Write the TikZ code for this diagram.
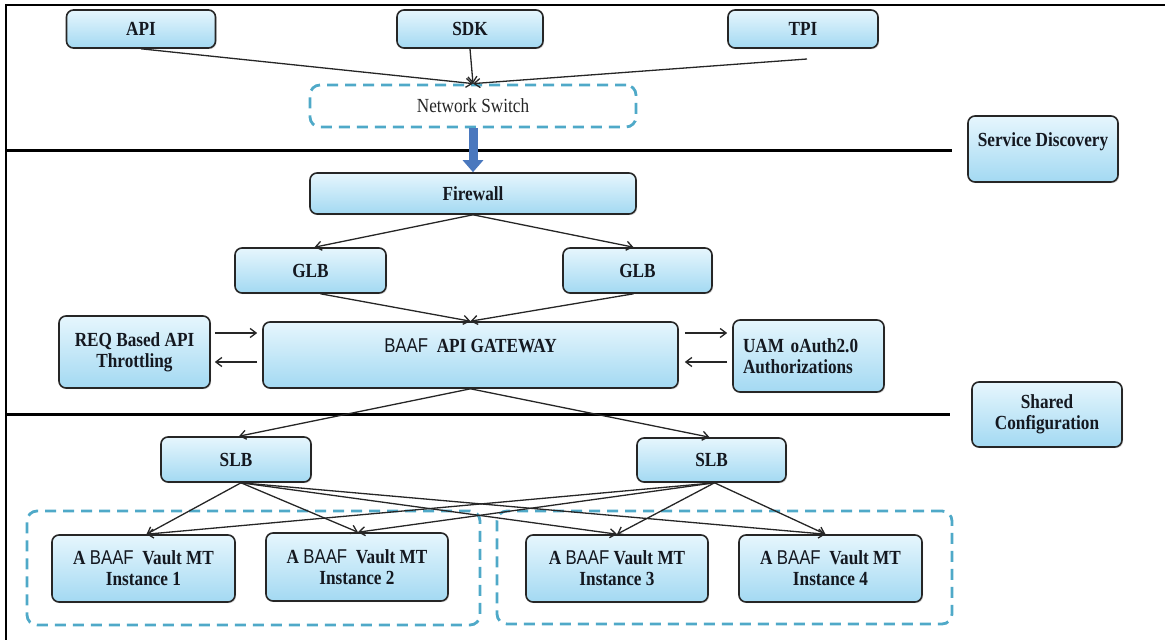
\documentclass[tikz,border=0pt]{standalone}
\usepackage{fontspec}
\setmainfont{Liberation Serif}[FakeStretch=0.86]
\newfontfamily\baaffont{Liberation Sans}[FakeStretch=0.84]
\usetikzlibrary{arrows.meta,calc,shadows}

\definecolor{boxtop}{HTML}{E6F6FD}
\definecolor{boxbot}{HTML}{A3D9F2}
\definecolor{dashblue}{HTML}{4FA9C8}
\definecolor{bigarrow}{HTML}{4A78BE}
\definecolor{inktext}{HTML}{141820}

\tikzset{
  box/.style={rounded corners=7pt, draw=black!85, line width=1.6pt,
    top color=boxtop, bottom color=boxbot, inner sep=0pt,
    font=\fontsize{20}{21}\selectfont\bfseries, text=inktext, align=center,
    drop shadow={opacity=0.25, shadow xshift=1.2pt, shadow yshift=-1.2pt}},
  groupbox/.style={draw=dashblue, line width=2.8pt, dash pattern=on 11pt off 7pt,
    rounded corners=10pt, inner sep=0pt},
  link/.style={draw=black!85, line width=1.3pt, -{Straight Barb[length=6pt,width=9pt]}},
  sepline/.style={line width=3pt, black},
  frameline/.style={line width=2pt, black},
}

\begin{document}
\begin{tikzpicture}[x=1pt,y=-1pt]
\useasboundingbox (0,0) rectangle (1165,640);

% outer frame and section separators
\draw[frameline] (6,640) -- (6,5) -- (1165,5);
\draw[sepline] (6,150) -- (952,150);
\draw[sepline] (6,414) -- (950,414);

% dashed groups
\node[groupbox, minimum width=453pt, minimum height=114pt] (grpL) at (253.5,568) {};
\node[groupbox, minimum width=455pt, minimum height=113pt] (grpR) at (724.5,567.5) {};

% clients
\node[box, minimum width=149pt, minimum height=38pt] (api) at (141,29) {API};
\node[box, minimum width=146pt, minimum height=38pt] (sdk) at (470,29) {SDK};
\node[box, minimum width=150pt, minimum height=38pt] (tpi) at (803,29) {TPI};

\node[groupbox, minimum width=326pt, minimum height=42pt,
  font=\fontsize{20}{21}\selectfont, text=black!85] (sw) at (473,106) {Network Switch};

% side services
\node[box, minimum width=150pt, text height=30pt, text depth=36pt] (sd) at (1043,149) {Service Discovery};
\node[box, minimum width=150pt, minimum height=65pt] (sc) at (1047,414.5) {Shared\\Configuration};

% edge tier
\node[box, minimum width=326pt, minimum height=41pt] (fw) at (473,193.5) {Firewall};
\node[box, minimum width=151pt, minimum height=45pt] (glb1) at (310.5,270.5) {GLB};
\node[box, minimum width=149pt, minimum height=45pt] (glb2) at (637.5,270.5) {GLB};

\node[box, minimum width=151pt, minimum height=72pt] (req) at (134.5,352) {REQ Based API\\Throttling};
\node[box, minimum width=415pt, text height=30pt, text depth=36pt] (gw) at (470.5,355)
  {{\baaffont\mdseries BAAF}\ \ API GATEWAY};
\node[box, text width=131pt, inner xsep=10pt, minimum height=72pt, align=left] (uam) at (808.5,356)
  {UAM oAuth2.0\\Authorizations};

% service tier
\node[box, minimum width=150pt, minimum height=45pt] (slb1) at (236,459.5) {SLB};
\node[box, minimum width=149pt, minimum height=44pt] (slb2) at (711.5,460) {SLB};

\node[box, minimum width=183pt, minimum height=67pt] (i1) at (143.5,568.5)
  {A {\baaffont\mdseries BAAF}\ \ Vault MT\\Instance 1};
\node[box, minimum width=182pt, minimum height=68pt] (i2) at (357,567)
  {A {\baaffont\mdseries BAAF}\ \ Vault MT\\Instance 2};
\node[box, minimum width=182pt, minimum height=67pt] (i3) at (617,568.5)
  {A {\baaffont\mdseries BAAF} Vault MT\\Instance 3};
\node[box, minimum width=183pt, minimum height=67pt] (i4) at (830.5,568.5)
  {A {\baaffont\mdseries BAAF}\ \ Vault MT\\Instance 4};

% client traffic into the switch
\coordinate (tpiend) at (807,59);
\draw[link] (api.south) -- (sw.north);
\draw[link] (sdk.south) -- (sw.north);
\draw[link] (tpiend) -- (sw.north);

\draw[line width=9pt, bigarrow, -{Triangle[length=12pt,width=20pt]}] (sw.south) -- (fw.north);

% firewall -> global load balancers -> gateway
\draw[link] (fw.south) -- ([xshift=4pt]glb1.north);
\draw[link] (fw.south) -- ([xshift=-4pt]glb2.north);
\draw[link] ([xshift=10pt]glb1.south) -- (gw.north);
\draw[link] ([xshift=-4pt]glb2.south) -- (gw.north);

% throttling and authorization round trips
\draw[link] ($(req.east)+(4,-19)$) -- ($(gw.west)+(-5,-22)$);
\draw[link] ($(gw.west)+(-5,7)$) -- ($(req.east)+(4,10)$);
\draw[link] ($(gw.east)+(6,-22)$) -- ($(uam.west)+(-5,-23)$);
\draw[link] ($(uam.west)+(-5,6)$) -- ($(gw.east)+(6,7)$);

% gateway -> service load balancers
\draw[link] (gw.south) -- ([xshift=3pt]slb1.north);
\draw[link] (gw.south) -- ([xshift=-2pt]slb2.north);

% service load balancers -> vault instances
\foreach \s/\dx in {slb1/5pt, slb2/3pt}{
  \draw[link] ([xshift=\dx]\s.south) -- ([xshift=3pt]i1.north);
  \draw[link] ([xshift=\dx]\s.south) -- ([xshift=1pt]i2.north);
  \draw[link] ([xshift=\dx]\s.south) -- (i3.north);
  \draw[link] ([xshift=\dx]\s.south) -- ([xshift=-5pt]i4.north);
}
\end{tikzpicture}
\end{document}
